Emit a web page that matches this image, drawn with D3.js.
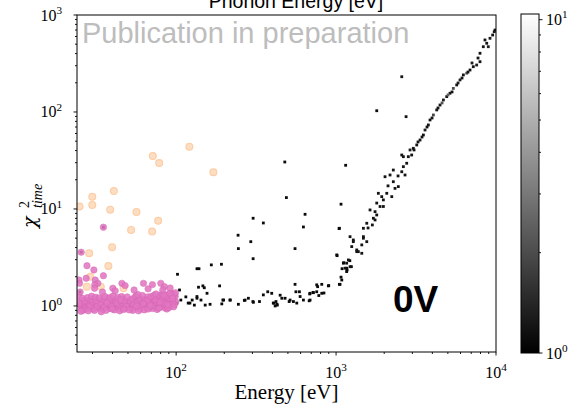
<!DOCTYPE html>
<html>
<head>
<meta charset="utf-8">
<script src="https://cdn.jsdelivr.net/npm/d3@7"></script>
<style>
  body { margin: 0; background: #fff; }
  svg { display: block; }
</style>
</head>
<body>
<svg id="chart" width="578" height="412"></svg>
<script>
// ---- Data --------------------------------------------------------------
// Axis ranges
const energyDomain = [24.0, 10000];     // eV
const chi2Domain = [0.335, 1000];
const shadeDomain = [1, 10.4];          // colour bar range (log)

// Tick labels (powers of ten)
const energyTickExps = [2, 3, 4];
const chi2TickExps = [0, 1, 2, 3];
const shadeTickExps = [0, 1];

// All events: [energy (eV), chi2_time, colour value]
const allEvents = [
  // sparse events above the flat band
  [478, 30.5, 1.1], [1148, 28.2, 1.1], [489, 13.1, 1.1], [640, 8.81, 1.1], [303, 8.02, 1.1],
  [351, 7.17, 1.1], [625, 6.52, 1.1], [1044, 6.27, 1.1], [1074, 11.2, 1.1], [244, 5.36, 1.1],
  [293, 4.60, 1.1], [245, 3.90, 1.1], [554, 3.90, 1.1], [303, 3.07, 1.1], [135, 2.42, 1.1],
  [139, 2.42, 1.1], [166, 2.65, 1.1], [192, 2.69, 1.1], [1015, 3.30, 1.1], [1117, 2.79, 1.1],
  [1219, 2.93, 1.1], [1090, 2.42, 1.1], [1172, 2.35, 1.1], [1247, 2.54, 1.1], [1074, 1.98, 1.1],
  [1049, 1.67, 1.1], [102, 2.12, 1.1], [2575, 231, 1.2], [1796, 103, 1.1], [2740, 89.5, 1.2],
  [1049, 6.32, 1.1], [1086, 1.85, 1.1],
  // flat band, 100 eV - 1 keV
  [105, 1.46, 1.1], [98.6, 1.30, 1.1], [94.4, 1.20, 1.1], [101, 1.07, 1.1], [107, 1.15, 1.1],
  [115, 1.24, 1.1], [119, 1.07, 1.1], [126, 1.15, 1.1], [130, 1.02, 1.1], [135, 1.20, 1.1],
  [147, 1.61, 1.1], [150, 1.54, 1.1], [156, 1.35, 1.1], [187, 1.61, 1.1], [143, 1.15, 1.1],
  [152, 1.02, 1.1], [163, 1.04, 1.1], [193, 1.05, 1.1], [198, 1.15, 1.1], [218, 1.15, 1.1],
  [245, 1.04, 1.1], [270, 1.15, 1.1], [283, 1.20, 1.1], [304, 1.09, 1.1], [332, 1.11, 1.1],
  [351, 1.30, 1.1], [374, 1.40, 1.1], [396, 1.35, 1.1], [409, 1.07, 1.1], [421, 1.11, 1.1],
  [429, 1.02, 1.1], [458, 1.20, 1.1], [480, 1.20, 1.1], [516, 1.15, 1.1], [541, 1.11, 1.1],
  [568, 1.07, 1.1], [554, 1.67, 1.1], [561, 1.40, 1.1], [590, 1.40, 1.1], [596, 1.25, 1.1],
  [625, 1.15, 1.1], [688, 1.15, 1.1], [688, 1.35, 1.1], [721, 1.37, 1.1], [757, 1.40, 1.1],
  [757, 1.65, 1.1], [814, 1.67, 1.1], [895, 1.61, 1.1], [814, 1.35, 1.1], [1059, 1.67, 1.1],
  [1010, 3.36, 1.1], [1111, 2.76, 1.1], [1165, 2.45, 1.1], [1165, 2.26, 1.1], [122, 1.07, 1.1],
  [135, 1.25, 1.1], [138, 1.56, 1.1], [196, 1.15, 1.1], [217, 1.15, 1.1], [267, 1.14, 1.1],
  [302, 1.11, 1.1], [405, 1.07, 1.1], [416, 1.00, 1.1], [427, 1.04, 1.1], [447, 1.29, 1.1],
  [509, 1.11, 1.1], [679, 1.13, 1.1], [684, 1.33, 1.1], [718, 1.38, 1.1], [767, 1.58, 1.1],
  [780, 1.28, 1.1], [840, 1.36, 1.1], [900, 1.62, 1.1],
  // low-energy events under the highlighted markers
  [35.1, 6.48, 1.1], [25.5, 3.58, 1.1], [25.1, 1.39, 1.1], [62, 1.12, 1.1], [70, 1.05, 1.1],
  [80, 1.18, 1.1], [88, 1.10, 1.1], [90, 1.00, 1.1], [96, 1.13, 1.1],
  // rising branch above ~1 keV
  [9750, 673, 1.3], [9530, 622, 1.2], [9170, 575, 1.3], [8750, 511, 1.2], [8330, 471, 1.2],
  [8950, 471, 1.3], [7943, 403, 1.2], [7943, 330, 1.2], [7570, 305, 1.3], [7210, 293, 1.2],
  [6879, 271, 1.2], [6560, 251, 2.2], [6250, 241, 1.2], [5957, 214, 1.3], [5680, 190, 1.2],
  [5410, 175, 2.0], [5158, 156, 1.2], [4920, 144, 1.2], [4690, 133, 1.3], [4467, 118, 1.2],
  [4260, 105, 1.2], [4060, 93.1, 1.9], [3868, 82.7, 1.2], [3775, 73.5, 1.2], [3600, 65.2, 1.3],
  [3515, 57.9, 1.2], [3350, 51.4, 1.2], [3195, 45.7, 1.2], [3040, 42.2, 1.2], [2901, 40.6, 1.3],
  [2830, 34.6, 1.2], [2635, 34.6, 1.2], [2765, 29.6, 1.2], [2575, 36.0, 1.2], [2970, 36.0, 1.2],
  [2635, 27.3, 1.2], [2280, 25.2, 1.2], [2575, 24.2, 1.2], [2699, 22.4, 1.2], [2024, 21.5, 1.2],
  [2175, 22.4, 1.2], [2280, 19.1, 1.2], [2450, 17.0, 1.2], [2337, 16.3, 1.2], [1838, 14.5, 1.2],
  [1930, 13.4, 1.2], [2075, 14.5, 1.2], [2230, 13.4, 1.2], [1976, 12.4, 1.2], [1796, 11.5, 1.2],
  [1884, 10.6, 1.2], [1976, 10.6, 1.2], [1753, 9.38, 1.2], [1796, 8.67, 1.2], [1711, 8.02, 1.2],
  [1753, 7.70, 1.2], [1556, 7.12, 1.2], [1686, 6.84, 1.2], [1482, 6.32, 1.2], [1223, 5.18, 1.2],
  [1482, 5.18, 1.2], [1556, 4.60, 1.2], [1282, 4.60, 1.2], [1448, 4.26, 1.2], [1253, 4.09, 1.2],
  [1347, 3.63, 1.2], [1448, 3.49, 1.2], [1194, 2.98, 1.2], [1223, 2.54, 1.2], [1138, 2.45, 1.2],
  [1165, 2.76, 1.2], [1282, 4.79, 1.2], [1482, 4.99, 1.2], [1347, 3.78, 1.2], [1378, 3.63, 1.2],
  [7720, 360, 1.2], [6680, 258, 1.2], [5790, 199, 1.3], [5012, 150, 2.4], [4340, 110, 1.2],
  [3981, 86.7, 1.2], [3447, 55.2, 1.2], [3073, 40.6, 1.2], [2441, 21.9, 1.2], [2113, 17.3, 1.2],
  [1631, 9.77, 1.2], [1585, 6.37, 1.2], [8531, 553, 1.2], [9862, 700, 1.2], [7080, 320, 1.3],
  [6130, 224, 1.2], [5310, 161, 1.2], [4600, 124, 2.1], [3705, 70.0, 1.2], [3254, 49.1, 1.2]
];

// Low-energy selection: [energy (eV), chi2_time]
const lowEnergyEvents = [
  [25.2, 1.02], [25.5, 0.95], [25.8, 1.10], [26.1, 0.98], [26.4, 1.05], [26.8, 0.92], [27.0, 1.15],
  [27.3, 1.00], [27.7, 0.96], [28.0, 1.08], [28.4, 1.03], [28.7, 0.94], [29.1, 1.12], [29.5, 0.99],
  [29.8, 1.06], [30.2, 0.93], [30.6, 1.01], [31.0, 1.18], [31.3, 0.97], [31.8, 1.04], [32.2, 1.09],
  [32.6, 0.95], [33.0, 1.02], [33.5, 1.14], [33.9, 0.98], [34.3, 1.06], [34.8, 0.92], [35.2, 1.00],
  [35.7, 1.11], [36.1, 0.96], [36.6, 1.04], [37.1, 1.20], [37.6, 0.99], [38.1, 1.07], [38.6, 0.94],
  [39.1, 1.02], [39.6, 1.13], [40.1, 0.97], [40.7, 1.05], [41.2, 0.91], [41.8, 1.09], [42.3, 1.00],
  [42.9, 1.16], [43.5, 0.96], [44.1, 1.04], [44.7, 1.10], [45.3, 0.93], [45.9, 1.01], [46.5, 1.19],
  [47.1, 0.98], [47.8, 1.06], [48.4, 0.95], [49.1, 1.12], [49.7, 1.02], [50.4, 0.97], [51.1, 1.08],
  [51.8, 1.15], [52.5, 0.94], [53.2, 1.03], [54.0, 1.10], [54.7, 0.99], [55.5, 1.22], [56.2, 1.05],
  [57.0, 0.96], [57.8, 1.13], [58.6, 1.01], [59.4, 0.93], [60.3, 1.07], [61.1, 1.17], [62.0, 0.98],
  [62.8, 1.04], [63.7, 1.11], [64.6, 0.95], [65.5, 1.02], [66.4, 1.24], [67.4, 1.08], [68.3, 0.97],
  [69.3, 1.14], [70.3, 1.03], [71.3, 0.94], [72.3, 1.10], [73.3, 1.19], [74.3, 1.00], [75.4, 1.06],
  [76.5, 0.96], [77.6, 1.13], [78.7, 1.27], [79.8, 1.04], [80.9, 0.98], [82.1, 1.09], [83.2, 1.17],
  [84.4, 1.01], [85.6, 0.95], [86.8, 1.12], [88.1, 1.30], [89.3, 1.05], [90.6, 1.21], [91.9, 0.99],
  [93.2, 1.08], [94.5, 1.34], [95.9, 1.15], [97.3, 1.02], [98.7, 1.25], [99.5, 1.10],
  [25.0, 1.07], [26.0, 0.90], [27.5, 1.12], [28.9, 1.00], [30.4, 1.09], [32.0, 0.99], [33.7, 1.07],
  [35.5, 0.97], [37.4, 1.12], [39.4, 1.00], [41.5, 1.14], [43.8, 1.02], [46.2, 1.08], [48.8, 1.00],
  [51.4, 1.13], [54.3, 1.04], [57.3, 1.09], [60.6, 1.00], [64.0, 1.16], [67.7, 1.05], [71.6, 1.00],
  [75.9, 1.09], [80.3, 1.14], [85.0, 1.07], [90.0, 1.14], [95.2, 1.06], [26.6, 1.13], [29.3, 1.16],
  [31.6, 1.13], [34.6, 1.17], [38.3, 1.16], [42.6, 1.07], [47.4, 1.13], [52.9, 1.18], [59.0, 1.19],
  [65.9, 1.13], [73.8, 1.16], [82.6, 1.22], [92.5, 1.18], [25.4, 0.88], [28.2, 0.89], [36.4, 0.90],
  [44.4, 0.89], [53.6, 0.90], [63.2, 0.91], [76.0, 0.92], [87.5, 0.93], [97.8, 1.31], [93.8, 1.27],
  [86.2, 1.25],
  [24.6, 1.24], [25.9, 1.20], [27.9, 1.22], [29.6, 1.26], [31.4, 1.23], [33.2, 1.21], [35.9, 1.25],
  [38.8, 1.22], [40.4, 1.27], [43.2, 1.22], [45.6, 1.25], [49.4, 1.24], [50.9, 0.91], [55.9, 1.27],
  [58.2, 0.89], [61.6, 1.28], [66.9, 0.93], [69.8, 1.25], [72.8, 1.29], [78.2, 0.95], [81.5, 1.32],
  [84.0, 1.29], [89.8, 0.96], [96.4, 0.98], [99.0, 1.37], [91.2, 1.35], [74.8, 1.33], [57.6, 1.31],
  [34.0, 0.87], [47.0, 0.92], [39.8, 0.93], [30.9, 0.90], [56.6, 1.00], [68.8, 1.01], [79.2, 1.09],
  [88.6, 1.03], [94.9, 1.20], [62.4, 1.06], [45.0, 1.15], [36.9, 1.08],
  // scattered above the band
  [35.1, 6.48], [25.5, 3.58], [27.7, 2.60], [30.6, 2.35], [35.1, 2.05], [24.7, 1.85], [27.4, 1.93],
  [31.2, 1.85], [24.9, 1.71], [32.4, 1.71], [31.0, 1.65], [62.5, 1.71], [71.1, 1.66], [80.2, 1.71],
  [45.8, 1.71], [48.0, 1.62], [34.6, 1.39], [40.2, 1.52], [25.1, 1.39], [30.9, 1.52], [84.5, 1.58],
  [82.5, 1.46], [91.7, 1.53], [54.6, 1.46], [66.8, 1.50], [41.6, 1.43]
];

// Outlier selection: [energy (eV), chi2_time]
const outlierEvents = [
  [121, 43.9], [71.5, 35.2], [78.3, 29.8], [40.8, 15.3], [29.9, 13.4], [29.9, 11.0], [24.9, 10.6],
  [38.7, 9.84], [56.5, 9.31], [77.2, 7.57], [52.3, 6.08], [70.8, 5.84], [39.8, 4.03], [28.6, 3.49],
  [37.7, 2.58], [29.0, 2.00], [27.7, 1.58], [33.8, 1.58], [46.9, 1.52], [171, 23.9]
];

// ---- Layout ------------------------------------------------------------
const plot = { left: 77, right: 496, top: 15, bottom: 352 };
const bar = { left: 521, right: 539, top: 14, bottom: 353 };
const serif = "'Liberation Serif', 'DejaVu Serif', serif";
const sans = "'Liberation Sans', Arial, sans-serif";

const svg = d3.select("#chart");
const x = d3.scaleLog().domain(energyDomain).range([plot.left, plot.right]);
const y = d3.scaleLog().domain(chi2Domain).range([plot.bottom, plot.top]);
const cPos = d3.scaleLog().domain(shadeDomain).range([bar.bottom, bar.top]);
const cNorm = d3.scaleLog().domain(shadeDomain).range([0, 1]).clamp(true);
const gray = v => d3.interpolateRgb("#000000", "#ffffff")(cNorm(v));

const defs = svg.append("defs");
defs.append("clipPath").attr("id", "plot-clip")
  .append("rect")
  .attr("x", plot.left).attr("y", plot.top)
  .attr("width", plot.right - plot.left).attr("height", plot.bottom - plot.top);

// ---- Markers -----------------------------------------------------------
const marks = svg.append("g").attr("clip-path", "url(#plot-clip)");
const sq = 2.8;
marks.append("g").selectAll("rect")
  .data(allEvents)
  .join("rect")
  .attr("x", d => x(d[0]) - sq / 2)
  .attr("y", d => y(d[1]) - sq / 2)
  .attr("width", sq).attr("height", sq)
  .attr("fill", d => gray(d[2]));

marks.append("g").selectAll("circle")
  .data(outlierEvents)
  .join("circle")
  .attr("cx", d => x(d[0]))
  .attr("cy", d => y(d[1]))
  .attr("r", 3.4)
  .attr("fill", "#fdd9b8")
  .attr("stroke", "#fcc596")
  .attr("stroke-width", 1.2)
  .attr("opacity", 0.85);

marks.append("g").selectAll("circle")
  .data(lowEnergyEvents)
  .join("circle")
  .attr("cx", d => x(d[0]))
  .attr("cy", d => y(d[1]))
  .attr("r", 3.2)
  .attr("fill", "#e377c2")
  .attr("stroke", "#d566b4")
  .attr("stroke-width", 0.6)
  .attr("opacity", 0.88);

// ---- Axes --------------------------------------------------------------
function minorValues(lo, hi) {
  const out = [];
  for (let e = Math.floor(Math.log10(lo)); e <= Math.ceil(Math.log10(hi)); e++) {
    for (let k = 2; k <= 9; k++) {
      const v = k * Math.pow(10, e);
      if (v >= lo && v <= hi) out.push(v);
    }
  }
  return out;
}

function powerLabel(g, exp, px, py, anchor, size) {
  const t = g.append("text")
    .attr("x", px).attr("y", py)
    .attr("text-anchor", anchor)
    .attr("font-family", serif)
    .attr("font-size", size)
    .attr("fill", "#000");
  t.append("tspan").text("10");
  t.append("tspan").attr("dy", -size * 0.42).attr("font-size", size * 0.7).text(exp);
  return t;
}

const axes = svg.append("g").attr("stroke", "#000").attr("stroke-width", 0.9);

// y axis ticks
minorValues(chi2Domain[0], chi2Domain[1]).forEach(v => {
  axes.append("line").attr("x1", plot.left).attr("x2", plot.left - 2)
    .attr("y1", y(v)).attr("y2", y(v));
});
chi2TickExps.forEach(e => {
  const v = Math.pow(10, e);
  axes.append("line").attr("x1", plot.left).attr("x2", plot.left - 3.5)
    .attr("y1", y(v)).attr("y2", y(v));
  powerLabel(svg, e, 62, y(v) + 5.5, "end", 16);
});

// x axis ticks
minorValues(energyDomain[0], energyDomain[1]).forEach(v => {
  axes.append("line").attr("y1", plot.bottom).attr("y2", plot.bottom + 2)
    .attr("x1", x(v)).attr("x2", x(v));
});
energyTickExps.forEach(e => {
  const v = Math.pow(10, e);
  axes.append("line").attr("y1", plot.bottom).attr("y2", plot.bottom + 3.5)
    .attr("x1", x(v)).attr("x2", x(v));
  powerLabel(svg, e, x(v), 378, "middle", 16);
});

// frame
svg.append("rect")
  .attr("x", plot.left).attr("y", plot.top)
  .attr("width", plot.right - plot.left).attr("height", plot.bottom - plot.top)
  .attr("fill", "none").attr("stroke", "#000").attr("stroke-width", 1);

// axis titles
svg.append("text")
  .attr("x", (plot.left + plot.right) / 2).attr("y", 399)
  .attr("text-anchor", "middle")
  .attr("font-family", serif).attr("font-size", 21)
  .text("Energy [eV]");

const yl = svg.append("g").attr("transform", "translate(36,205) rotate(-90)");
yl.append("text").attr("x", -23).attr("y", 0)
  .attr("font-family", "'DejaVu Serif', serif").attr("font-style", "italic").attr("font-size", 19)
  .text("χ");
yl.append("text").attr("x", -3).attr("y", -7)
  .attr("font-family", serif).attr("font-size", 14)
  .text("2");
yl.append("text").attr("x", -3).attr("y", 6)
  .attr("font-family", serif).attr("font-style", "italic").attr("font-size", 14)
  .text("time");

svg.append("text")
  .attr("x", 296).attr("y", 8)
  .attr("text-anchor", "middle")
  .attr("font-family", sans).attr("font-size", 19.5)
  .text("Phonon Energy [eV]");

// annotations
svg.append("text")
  .attr("x", 82).attr("y", 43)
  .attr("font-family", sans).attr("font-size", 29)
  .attr("fill", "#bdbdbd")
  .text("Publication in preparation");

svg.append("text")
  .attr("x", 393).attr("y", 312)
  .attr("font-family", sans).attr("font-weight", "bold").attr("font-size", 37)
  .attr("fill", "#000")
  .text("0V");

// ---- Colour bar --------------------------------------------------------
const grad = defs.append("linearGradient").attr("id", "cbar")
  .attr("x1", 0).attr("y1", 1).attr("x2", 0).attr("y2", 0);
d3.range(0, 11).forEach(i => {
  const v = Math.pow(10, Math.log10(shadeDomain[0]) + (Math.log10(shadeDomain[1]) - Math.log10(shadeDomain[0])) * i / 10);
  grad.append("stop").attr("offset", i / 10).attr("stop-color", gray(v));
});
svg.append("rect")
  .attr("x", bar.left).attr("y", bar.top)
  .attr("width", bar.right - bar.left).attr("height", bar.bottom - bar.top)
  .attr("fill", "url(#cbar)").attr("stroke", "#000").attr("stroke-width", 1);

const cax = svg.append("g").attr("stroke", "#000").attr("stroke-width", 0.9);
minorValues(shadeDomain[0], shadeDomain[1]).forEach(v => {
  cax.append("line").attr("x1", bar.right).attr("x2", bar.right + 2)
    .attr("y1", cPos(v)).attr("y2", cPos(v));
});
shadeTickExps.forEach(e => {
  const v = Math.pow(10, e);
  cax.append("line").attr("x1", bar.right).attr("x2", bar.right + 3.5)
    .attr("y1", cPos(v)).attr("y2", cPos(v));
  powerLabel(svg, e, bar.right + 7, cPos(v) + 5.5, "start", 16);
});
</script>
</body>
</html>
